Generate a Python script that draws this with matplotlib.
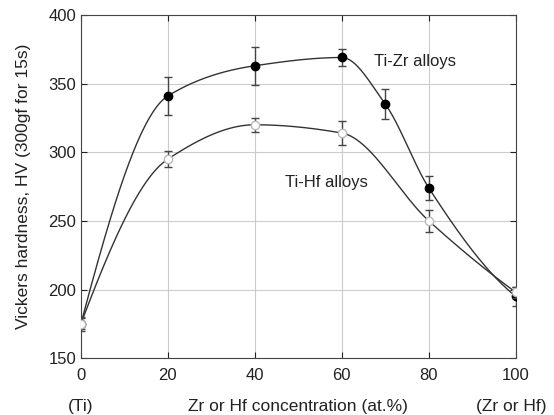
import numpy as np
import matplotlib.pyplot as plt

plt.rcParams['font.family'] = ['Liberation Sans', 'DejaVu Sans']

conc = [0, 20, 40, 60, 70, 80, 100]
zr_hv = [175, 341, 363, 369, 335, 274, 195]
zr_err = [5, 14, 14, 6, 11, 9, 7]

conc_hf = [0, 20, 40, 60, 80, 100]
hf_hv = [175, 295, 320, 314, 250, 198]
hf_err = [4, 6, 5, 9, 8, 4]


def pchip(x, y, xs):
    """Monotone cubic interpolation (Fritsch-Carlson), numpy only."""
    x = np.asarray(x, float)
    y = np.asarray(y, float)
    h = np.diff(x)
    d = np.diff(y) / h
    m = np.zeros_like(y)
    for k in range(1, len(x) - 1):
        if d[k - 1] * d[k] > 0:
            w1 = 2 * h[k] + h[k - 1]
            w2 = h[k] + 2 * h[k - 1]
            m[k] = (w1 + w2) / (w1 / d[k - 1] + w2 / d[k])
    m[0] = ((2 * h[0] + h[1]) * d[0] - h[0] * d[1]) / (h[0] + h[1])
    m[-1] = ((2 * h[-1] + h[-2]) * d[-1] - h[-1] * d[-2]) / (h[-1] + h[-2])
    idx = np.clip(np.searchsorted(x, xs) - 1, 0, len(x) - 2)
    t = (xs - x[idx]) / h[idx]
    h00 = 2 * t**3 - 3 * t**2 + 1
    h10 = t**3 - 2 * t**2 + t
    h01 = -2 * t**3 + 3 * t**2
    h11 = t**3 - t**2
    return (h00 * y[idx] + h10 * h[idx] * m[idx]
            + h01 * y[idx + 1] + h11 * h[idx] * m[idx + 1])


fig = plt.figure(figsize=(5.54, 4.15), dpi=100)
ax = fig.add_axes([0.146, 0.137, 0.785, 0.827])

txt = '#222222'
xs = np.linspace(0, 100, 400)
ax.plot(xs, pchip(conc, zr_hv, xs), color='#333333', lw=1.0, zorder=2)
ax.plot(xs, pchip(conc_hf, hf_hv, xs), color='#333333', lw=1.0, zorder=2)

ax.errorbar(conc, zr_hv, yerr=zr_err, fmt='o', ms=6, mfc='black',
            mec='black', ecolor='#444444', elinewidth=1, capsize=3, zorder=3)
ax.errorbar(conc_hf, hf_hv, yerr=hf_err, fmt='o', ms=6, mfc='white',
            mec='#bbbbbb', ecolor='#444444', elinewidth=1, capsize=3, zorder=4)

ax.text(67.5, 366, 'Ti-Zr alloys', fontsize=12, va='center', color=txt)
ax.text(47, 278, 'Ti-Hf alloys', fontsize=12, va='center', color=txt)

ax.set_xlim(0, 100)
ax.set_ylim(150, 400)
ax.set_xticks([0, 20, 40, 60, 80, 100])
ax.set_yticks([150, 200, 250, 300, 350, 400])
ax.grid(True, color='#cccccc', lw=0.8)
ax.tick_params(direction='in', top=True, right=True, labelsize=12,
               colors=txt, length=4)
ax.tick_params(axis='x', pad=7)
for s in ax.spines.values():
    s.set_color('#444444')

ax.set_ylabel('Vickers hardness, HV (300gf for 15s)', fontsize=12.5, color=txt,
              labelpad=12)
ax.text(0.5, -0.14, 'Zr or Hf concentration (at.%)', transform=ax.transAxes,
        ha='center', va='center', fontsize=12.5, color=txt)
ax.text(0.0, -0.14, '(Ti)', transform=ax.transAxes, ha='center', va='center',
        fontsize=12.5, color=txt)
ax.text(0.99, -0.14, '(Zr or Hf)', transform=ax.transAxes, ha='center',
        va='center', fontsize=12.5, color=txt)

fig.savefig('out.png', dpi=100)
